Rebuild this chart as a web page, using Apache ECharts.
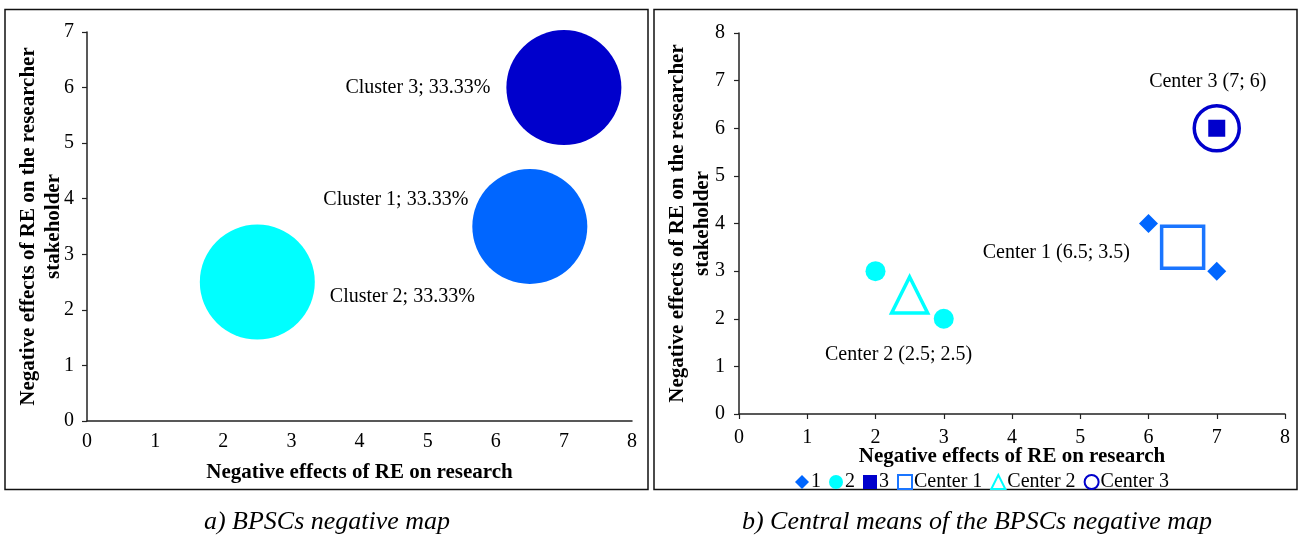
<!DOCTYPE html>
<html>
<head>
<meta charset="utf-8">
<script src="https://cdn.jsdelivr.net/npm/echarts@6/dist/echarts.min.js"></script>
<style>
  html, body { margin: 0; padding: 0; background: #fff; }
  #chart { width: 1303px; height: 540px; }
</style>
</head>
<body>
<div id="chart"></div>
<script>
// Cluster centres (bubble map, panel a) and their shares
const clusterNames = ['Cluster 1', 'Cluster 2', 'Cluster 3'];
const clusterX = [6.5, 2.5, 7];
const clusterY = [3.5, 2.5, 6];
const clusterShare = [33.33, 33.33, 33.33];

// Individual members of each cluster (panel b)
const members1 = [[6, 4], [7, 3]];
const members2 = [[2, 3], [3, 2]];
const members3 = [[7, 6]];

// Axis ranges
const xRangeA = [0, 8];
const yRangeA = [0, 7];
const xRangeB = [0, 8];
const yRangeB = [0, 8];

const xTitle = 'Negative effects of RE on research';
const yTitle = 'Negative effects of RE on the researcher\nstakeholder';
const captionA = 'a) BPSCs negative map';
const captionB = 'b) Central means of the BPSCs negative map';

const clusterColors = ['#0066FF', '#00FFFF', '#0000CC'];
const FONT = '"Liberation Serif", "Times New Roman", serif';
const FS = 20;

const chart = echarts.init(document.getElementById('chart'), null, { renderer: 'canvas' });

function valueAxis(kind, gridIndex, range, nameGap, showTick, labelMargin) {
  const ax = {
    type: 'value',
    gridIndex: gridIndex,
    min: range[0],
    max: range[1],
    interval: 1,
    name: kind === 'x' ? xTitle : yTitle,
    nameLocation: 'middle',
    nameGap: nameGap,
    nameMoveOverlap: false,
    nameTextStyle: {
      fontFamily: FONT, fontWeight: 'bold', fontSize: 21, color: '#000',
      lineHeight: 25
    },
    axisLine: { show: true, lineStyle: { color: '#222', width: 1.5 } },
    axisTick: { show: showTick, inside: false, length: 5, lineStyle: { color: '#222', width: 1.2 } },
    axisLabel: { fontFamily: FONT, fontSize: FS, color: '#000', margin: labelMargin },
    splitLine: { show: false }
  };
  if (kind === 'y') ax.nameRotate = 90;
  return ax;
}

// Labels placed around each bubble
const bubbleLabelPos = [
  { position: 'left', distance: 4, offset: [0, -27] },
  { position: 'right', distance: 15, offset: [0, 15] },
  { position: 'left', distance: 16, offset: [0, 0] }
];

const bubbleData = clusterNames.map((n, i) => ({
  name: n,
  value: [clusterX[i], clusterY[i], clusterShare[i]],
  itemStyle: { color: clusterColors[i], opacity: 1 },
  label: Object.assign({
    show: true,
    formatter: n + '; ' + clusterShare[i].toFixed(2) + '%',
    fontFamily: FONT, fontSize: FS, color: '#000'
  }, bubbleLabelPos[i])
}));

const centerLabelPos = [
  { position: 'left', distance: 30, offset: [0, 5] },
  { position: 'bottom', distance: 30, offset: [-11, 0] },
  { position: 'top', distance: 12, offset: [-9, 0] }
];
function centerLabel(i) {
  return Object.assign({
    show: true,
    formatter: 'Center ' + (i + 1) + ' (' + clusterX[i] + '; ' + clusterY[i] + ')',
    fontFamily: FONT, fontSize: FS, color: '#000'
  }, centerLabelPos[i]);
}

const option = {
  backgroundColor: '#fff',
  animation: false,
  grid: [
    { left: 87, right: 671, top: 32, bottom: 119, outerBoundsMode: 'none', containLabel: false },
    { left: 739, right: 18, top: 33, bottom: 126, outerBoundsMode: 'none', containLabel: false }
  ],
  xAxis: [
    valueAxis('x', 0, xRangeA, 39, false, 11),
    valueAxis('x', 1, xRangeB, 30, true, 14)
  ],
  yAxis: [
    valueAxis('y', 0, yRangeA, 21, true, 13),
    valueAxis('y', 1, yRangeB, 24, true, 14)
  ],
  legend: {
    left: 790,
    top: 467,
    itemWidth: 14,
    itemHeight: 14,
    itemGap: 8,
    textStyle: { fontFamily: FONT, fontSize: FS, color: '#000', padding: [0, 0, 0, -3] },
    data: [
      { name: '1', icon: 'diamond' },
      { name: '2', icon: 'circle' },
      { name: '3', icon: 'rect' },
      { name: 'Center 1', icon: 'rect' },
      { name: 'Center 2', icon: 'triangle' },
      { name: 'Center 3', icon: 'circle' }
    ]
  },
  graphic: [
    { type: 'rect', shape: { x: 5, y: 9.5, width: 643, height: 480 },
      style: { fill: 'none', stroke: '#111', lineWidth: 1.5 }, z: 0 },
    { type: 'rect', shape: { x: 654, y: 9.5, width: 643, height: 480 },
      style: { fill: 'none', stroke: '#111', lineWidth: 1.5 }, z: 0 },
    { type: 'text', x: 327, y: 522,
      style: { text: captionA, fontFamily: FONT, fontStyle: 'italic', fontSize: 26,
               fill: '#000', align: 'center', verticalAlign: 'middle' } },
    { type: 'text', x: 977, y: 522,
      style: { text: captionB, fontFamily: FONT, fontStyle: 'italic', fontSize: 26,
               fill: '#000', align: 'center', verticalAlign: 'middle' } }
  ],
  series: [
    {
      name: 'Clusters',
      type: 'scatter',
      xAxisIndex: 0, yAxisIndex: 0,
      symbol: 'circle',
      symbolSize: 115,
      data: bubbleData,
      z: 3
    },
    {
      name: '1', type: 'scatter', xAxisIndex: 1, yAxisIndex: 1,
      symbol: 'diamond', symbolSize: 19,
      itemStyle: { color: clusterColors[0], opacity: 1 },
      data: members1, z: 4
    },
    {
      name: '2', type: 'scatter', xAxisIndex: 1, yAxisIndex: 1,
      symbol: 'circle', symbolSize: 20,
      itemStyle: { color: clusterColors[1], opacity: 1 },
      data: members2, z: 4
    },
    {
      name: '3', type: 'scatter', xAxisIndex: 1, yAxisIndex: 1,
      symbol: 'rect', symbolSize: 17,
      itemStyle: { color: clusterColors[2], opacity: 1 },
      data: members3, z: 5
    },
    {
      name: 'Center 1', type: 'scatter', xAxisIndex: 1, yAxisIndex: 1,
      symbol: 'rect', symbolSize: 42,
      itemStyle: { color: 'rgba(255,255,255,0)', borderColor: '#1A75FF', borderWidth: 3.5, opacity: 1 },
      data: [{ value: [clusterX[0], clusterY[0]], label: centerLabel(0) }], z: 3
    },
    {
      name: 'Center 2', type: 'scatter', xAxisIndex: 1, yAxisIndex: 1,
      symbol: 'triangle', symbolSize: 36,
      itemStyle: { color: 'rgba(255,255,255,0)', borderColor: '#00FFFF', borderWidth: 3.5, opacity: 1 },
      data: [{ value: [clusterX[1], clusterY[1]], label: centerLabel(1) }], z: 3
    },
    {
      name: 'Center 3', type: 'scatter', xAxisIndex: 1, yAxisIndex: 1,
      symbol: 'circle', symbolSize: 45,
      itemStyle: { color: 'rgba(255,255,255,0)', borderColor: '#0000CC', borderWidth: 3.5, opacity: 1 },
      data: [{ value: [clusterX[2], clusterY[2]], label: centerLabel(2) }], z: 3
    }
  ]
};

chart.setOption(option);
</script>
</body>
</html>
